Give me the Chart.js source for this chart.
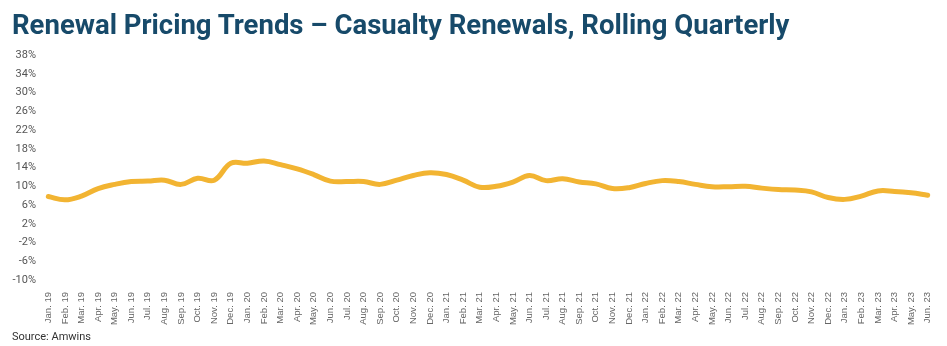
<!DOCTYPE html>
<html>
<head>
<meta charset="utf-8">
<script src="https://cdn.jsdelivr.net/npm/chart.js@4"></script>
<style>
  body { margin: 0; background: #fff; }
  #wrap { position: relative; width: 947px; height: 346px; overflow: hidden; }
  #title {
    position: absolute; left: 12px; top: 8px; margin: 0;
    font: bold 27.5px Roboto, sans-serif; color: #174a6a; white-space: nowrap;
  }
  #source {
    position: absolute; left: 12px; top: 330px;
    font: 11px Roboto, sans-serif; color: #333;
  }
  canvas { position: absolute; left: 0; top: 0; }
</style>
</head>
<body>
<div id="wrap">
  <canvas id="chart" width="947" height="346"></canvas>
  <h1 id="title">Renewal Pricing Trends – Casualty Renewals, Rolling Quarterly</h1>
  <div id="source">Source: Amwins</div>
</div>
<script>
'use strict';

// 월 라벨
const months = [
  'Jan. 19', 'Feb. 19', 'Mar. 19', 'Apr. 19', 'May. 19', 'Jun. 19', 'Jul. 19', 'Aug. 19', 'Sep. 19', 'Oct. 19', 'Nov. 19', 'Dec. 19',
  'Jan. 20', 'Feb. 20', 'Mar. 20', 'Apr. 20', 'May. 20', 'Jun. 20', 'Jul. 20', 'Aug. 20', 'Sep. 20', 'Oct. 20', 'Nov. 20', 'Dec. 20',
  'Jan. 21', 'Feb. 21', 'Mar. 21', 'Apr. 21', 'May. 21', 'Jun. 21', 'Jul. 21', 'Aug. 21', 'Sep. 21', 'Oct. 21', 'Nov. 21', 'Dec. 21',
  'Jan. 22', 'Feb. 22', 'Mar. 22', 'Apr. 22', 'May. 22', 'Jun. 22', 'Jul. 22', 'Aug. 22', 'Sep. 22', 'Oct. 22', 'Nov. 22', 'Dec. 22',
  'Jan. 23', 'Feb. 23', 'Mar. 23', 'Apr. 23', 'May. 23', 'Jun. 23'
];

// 갱신 요율 변화 (%)
const casualtyRenewals = [
  7.8, 7.1, 7.9, 9.5, 10.4, 11.0, 11.1, 11.3, 10.4, 11.7, 11.3, 14.9,
  14.9, 15.4, 14.6, 13.7, 12.5, 11.1, 11.0, 11.0, 10.4, 11.3, 12.3, 12.9,
  12.5, 11.3, 9.8, 10.0, 10.9, 12.3, 11.2, 11.6, 10.9, 10.5, 9.5, 9.7,
  10.6, 11.2, 11.0, 10.4, 9.9, 9.9, 10.0, 9.6, 9.3, 9.2, 8.8, 7.6,
  7.2, 7.9, 9.0, 8.9, 8.6, 8.1
];

const yMin = -10;
const yMax = 38;
const yStep = 4;

new Chart(document.getElementById('chart').getContext('2d'), {
  type: 'line',
  data: {
    labels: months,
    datasets: [{
      label: 'Casualty',
      data: casualtyRenewals,
      borderColor: '#f2b432',
      borderWidth: 5,
      tension: 0.4,
      pointRadius: 0,
      borderCapStyle: 'round'
    }]
  },
  options: {
    responsive: false,
    animation: false,
    layout: { padding: { top: 55, bottom: 18, right: 11, left: 0 } },
    plugins: { legend: { display: false }, tooltip: { enabled: false } },
    scales: {
      x: {
        offset: true,
        grid: { display: false },
        border: { display: false },
        afterFit: (s) => { s.height = 48; },
        ticks: {
          autoSkip: false,
          minRotation: 90,
          maxRotation: 90,
          padding: 4,
          color: '#666',
          font: { family: 'Liberation Sans, Arial, sans-serif', size: 9.5 }
        }
      },
      y: {
        min: yMin,
        max: yMax,
        border: { display: false },
        afterFit: (s) => { s.width = 40; },
        grid: {
          drawTicks: false,
          lineWidth: 2,
          color: (ctx) => (ctx.tick && ctx.tick.value === 0 ? '#9a9a9a' : 'rgba(0,0,0,0)')
        },
        ticks: {
          stepSize: yStep,
          padding: 4,
          color: '#555',
          font: { family: 'Roboto, sans-serif', size: 11 },
          callback: (v) => v + '%'
        }
      }
    }
  }
});
</script>
</body>
</html>
